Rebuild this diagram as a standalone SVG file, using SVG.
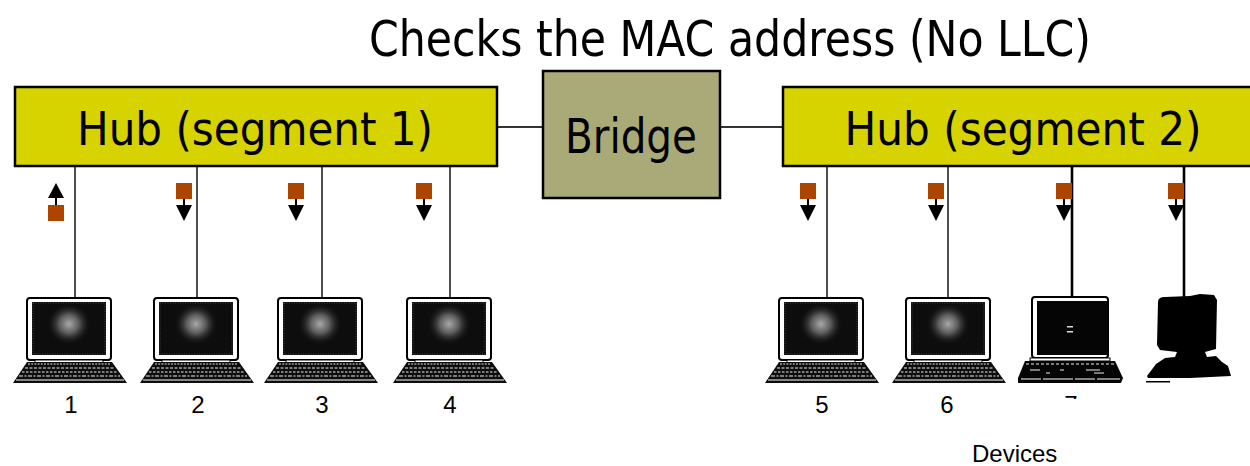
<svg xmlns="http://www.w3.org/2000/svg" width="1250" height="466" viewBox="0 0 1250 466">
  <style>
    .hub { fill: #D6D300; stroke: #000; stroke-width: 2.5; }
    .bridge { fill: #AAAA78; stroke: #000; stroke-width: 2.5; }
    .big { font-family: "DejaVu Sans Condensed", "DejaVu Sans", sans-serif; fill: #000; }
    .num { font-family: "Liberation Sans", Arial, sans-serif; font-size: 24px; fill: #000; }
    .wire { stroke: #222; stroke-width: 1.6; fill: none; }
    .wire-bold { stroke: #000; stroke-width: 2.6; fill: none; }
    .link { stroke: #333; stroke-width: 2; fill: none; }
    .pkt { fill: #AD4500; }
    .arr { fill: #000; }
  </style>
  <defs>
    <radialGradient id="glow" cx="0.5" cy="0.5" r="0.5">
      <stop offset="0" stop-color="#a8a8a8"/>
      <stop offset="0.45" stop-color="#5a5a5a"/>
      <stop offset="1" stop-color="#111" stop-opacity="0"/>
    </radialGradient>
    <!-- classic laptop: origin at top-centre of the monitor -->
    <symbol id="laptop" overflow="visible">
      <rect x="-42" y="0" width="84" height="62" rx="3" fill="#fff" stroke="#000" stroke-width="2"/>
      <rect x="-37" y="4" width="74" height="53" fill="#0d0d0d"/>
      <rect x="-36" y="5" width="72" height="51" fill="none" stroke="#555" stroke-width="0.8" stroke-dasharray="1 1.5"/>
      <ellipse cx="0" cy="26" rx="22" ry="21" fill="url(#glow)"/>
      <rect x="-34" y="62" width="68" height="3" fill="#fff" stroke="#000" stroke-width="1"/>
      <path d="M-42,64 L43,64 L58,85 L-56,85 Z" fill="#0d0d0d"/>
      <path d="M-41,66 L42,66" stroke="#ddd" stroke-width="1.2" stroke-dasharray="2 1.2"/>
      <path d="M-44,70 L45,70" stroke="#eee" stroke-width="1" stroke-dasharray="3 1.5"/>
      <path d="M-47,74 L48,74" stroke="#eee" stroke-width="1" stroke-dasharray="2.5 1.5"/>
      <path d="M-50,78 L51,78" stroke="#eee" stroke-width="1" stroke-dasharray="4 1.5 2 1.5"/>
      <path d="M-53,82 L55,82" stroke="#fff" stroke-width="1.2"/>
    </symbol>
    <!-- a frame heading down a drop towards a station -->
    <g id="down-frame">
      <rect class="pkt" x="0" y="183" width="16" height="16"/>
      <rect class="arr" x="7" y="199" width="2" height="7"/>
      <path class="arr" d="M0,205 L16,205 L8,221 Z"/>
    </g>
    <clipPath id="cut7"><rect x="1050" y="380" width="40" height="19"/></clipPath>
  </defs>

  <rect width="1250" height="466" fill="#fff"/>

  <text class="big" x="730" y="56" font-size="50" text-anchor="middle" textLength="722" lengthAdjust="spacingAndGlyphs">Checks the MAC address (No LLC)</text>

  <!-- connectors -->
  <g id="connectors">
    <line class="link" x1="497" y1="127" x2="543" y2="127"/>
    <line class="link" x1="720" y1="127" x2="783" y2="127"/>
    <line class="wire" x1="75" y1="166" x2="75" y2="298"/>
    <line class="wire" x1="197" y1="166" x2="197" y2="298"/>
    <line class="wire" x1="322" y1="166" x2="322" y2="298"/>
    <line class="wire" x1="450" y1="166" x2="450" y2="298"/>
    <line class="wire" x1="827" y1="166" x2="827" y2="298"/>
    <line class="wire" x1="948" y1="166" x2="948" y2="298"/>
    <line class="wire-bold" x1="1072" y1="166" x2="1072" y2="302"/>
    <line class="wire-bold" x1="1184" y1="166" x2="1184" y2="298"/>
  </g>

  <g id="hub1">
    <rect class="hub" x="15" y="87" width="482" height="79"/>
    <text class="big" x="255" y="145" font-size="47" text-anchor="middle" textLength="356" lengthAdjust="spacingAndGlyphs">Hub (segment 1)</text>
  </g>

  <g id="bridge">
    <rect class="bridge" x="543" y="71" width="177" height="127"/>
    <text class="big" x="631" y="153" font-size="48" text-anchor="middle" textLength="132" lengthAdjust="spacingAndGlyphs">Bridge</text>
  </g>

  <g id="hub2">
    <rect class="hub" x="783" y="87" width="480" height="79"/>
    <text class="big" x="1023" y="145" font-size="47" text-anchor="middle" textLength="357" lengthAdjust="spacingAndGlyphs">Hub (segment 2)</text>
  </g>

  <!-- frames travelling on the drops -->
  <g id="frames">
    <!-- up from station 1 -->
    <rect class="pkt" x="48" y="205" width="16" height="16"/>
    <rect class="arr" x="55" y="197" width="2" height="8"/>
    <path class="arr" d="M48,198 L64,198 L56,183 Z"/>
    <!-- down towards the other stations -->
    <use href="#down-frame" x="176"/>
    <use href="#down-frame" x="288"/>
    <use href="#down-frame" x="416"/>
    <use href="#down-frame" x="800"/>
    <use href="#down-frame" x="928"/>
    <use href="#down-frame" x="1056"/>
    <use href="#down-frame" x="1168"/>
  </g>

  <g id="station1"><use href="#laptop" x="69" y="298"/><text class="num" x="71" y="413" text-anchor="middle">1</text></g>
  <g id="station2"><use href="#laptop" x="196" y="298"/><text class="num" x="198" y="413" text-anchor="middle">2</text></g>
  <g id="station3"><use href="#laptop" x="320" y="298"/><text class="num" x="322" y="413" text-anchor="middle">3</text></g>
  <g id="station4"><use href="#laptop" x="449" y="298"/><text class="num" x="450" y="413" text-anchor="middle">4</text></g>
  <g id="station5"><use href="#laptop" x="821" y="298"/><text class="num" x="822" y="413" text-anchor="middle">5</text></g>
  <g id="station6"><use href="#laptop" x="948" y="298"/><text class="num" x="947" y="413" text-anchor="middle">6</text></g>

  <!-- flat-screen laptop -->
  <g id="station7">
    <rect x="1032" y="297" width="76" height="61" rx="3" fill="#fff" stroke="#000" stroke-width="2"/>
    <rect x="1037" y="301" width="71" height="54" fill="#050505"/>
    <rect x="1067" y="326" width="6" height="1.5" fill="#ddd"/>
    <rect x="1067" y="331" width="6" height="1.5" fill="#ddd"/>
    <rect x="1030" y="358" width="80" height="3" fill="#fff" stroke="#000" stroke-width="1"/>
    <path d="M1025,361 L1115,361 L1123,378 L1121,383 L1018,383 L1018,378 Z" fill="#050505"/>
    <path d="M1026,364 L1114,364" stroke="#eee" stroke-width="1" stroke-dasharray="3 2"/>
    <path d="M1030,370 L1040,370 M1060,370 L1064,370 M1086,370 L1100,370 M1046,373 L1050,373 M1094,373 L1104,373" stroke="#eee" stroke-width="1"/>
    <path d="M1021,379 L1120,379" stroke="#fff" stroke-width="1.2" stroke-dasharray="20 2 30 2"/>
    <text class="num" x="1071" y="413" text-anchor="middle" clip-path="url(#cut7)">7</text>
  </g>

  <!-- desktop workstation silhouette -->
  <g id="station8">
    <path d="M1158,302 Q1158,297 1165,297 L1190,296 L1200,294 L1214,295 L1217,300 L1216,349 L1205,352 L1207,357 L1216,356 L1222,362 L1228,366 L1231,376 L1190,378 L1148,378 L1147,376 L1156,364 L1165,358 L1175,357 L1177,352 L1160,350 L1157,345 Z" fill="#000"/>
    <rect x="1146" y="381" width="24" height="1.5" fill="#000"/>
  </g>

  <text class="num" x="972" y="462" font-size="25">Devices</text>
</svg>
